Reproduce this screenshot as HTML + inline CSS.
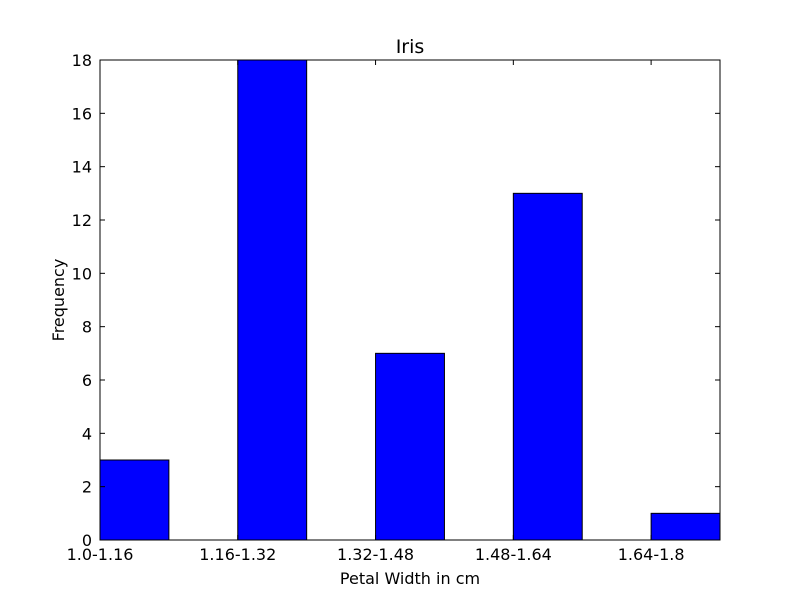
<!DOCTYPE html>
<html><head><meta charset="utf-8"><style>
html,body{margin:0;padding:0;background:#fff;}
svg{display:block;font-family:"DejaVu Sans","Liberation Sans",sans-serif;}
</style></head><body>
<svg id="chart" width="800" height="600"></svg>
<script>
const categories = ["1.0-1.16","1.16-1.32","1.32-1.48","1.48-1.64","1.64-1.8"];
const frequencies = [3,18,7,13,1];
const yTicks = [0,2,4,6,8,10,12,14,16,18];
const svg = document.getElementById('chart');
const NS = 'http://www.w3.org/2000/svg';
const L=100,R=720,T=60,B=540,yMax=18;
const step=(R-L)/4.5;
const xs = i => L + i*step;
const ys = v => B - v/yMax*(B-T);
function mk(tag, attrs, parent){const e=document.createElementNS(NS,tag);for(const k in attrs)e.setAttribute(k,attrs[k]);(parent||svg).appendChild(e);return e;}
mk('rect',{x:0,y:0,width:800,height:600,fill:'#fff'});
const bars = mk('g',{});


frequencies.forEach((v,i)=>{
  const r = mk('rect',{x:xs(i),y:ys(v),width:step/2,height:B-ys(v),fill:'#0000ff',stroke:'#000','stroke-width':1},bars);
  
  
});
const frame = mk('rect',{x:L,y:T,width:R-L,height:B-T,fill:'none',stroke:'#000','stroke-width':1});


yTicks.forEach(t=>{
  const y=ys(t);
  mk('line',{x1:L,x2:L+5,y1:y,y2:y,stroke:'#000'});
  mk('line',{x1:R,x2:R-5,y1:y,y2:y,stroke:'#000'});
  const tx = mk('text',{x:L-8,y:y+6,'text-anchor':'end','font-size':16});
  tx.textContent=t;
  
  
});
categories.forEach((c,i)=>{
  const x=xs(i);
  mk('line',{x1:x,x2:x,y1:B,y2:B-5,stroke:'#000'});
  mk('line',{x1:x,x2:x,y1:T,y2:T+5,stroke:'#000'});
  const tx = mk('text',{x:x,y:B+20,'text-anchor':'middle','font-size':16});
  tx.textContent=c;
  
  
});
const title = mk('text',{x:(L+R)/2,y:53,'text-anchor':'middle','font-size':19});
title.textContent='Iris';


const xt = mk('text',{x:(L+R)/2,y:584,'text-anchor':'middle','font-size':16});
xt.textContent='Petal Width in cm';


const yt = mk('text',{x:0,y:0,'text-anchor':'middle','font-size':16,transform:'translate(64,300) rotate(-90)'});
yt.textContent='Frequency';


</script>
</body></html>
